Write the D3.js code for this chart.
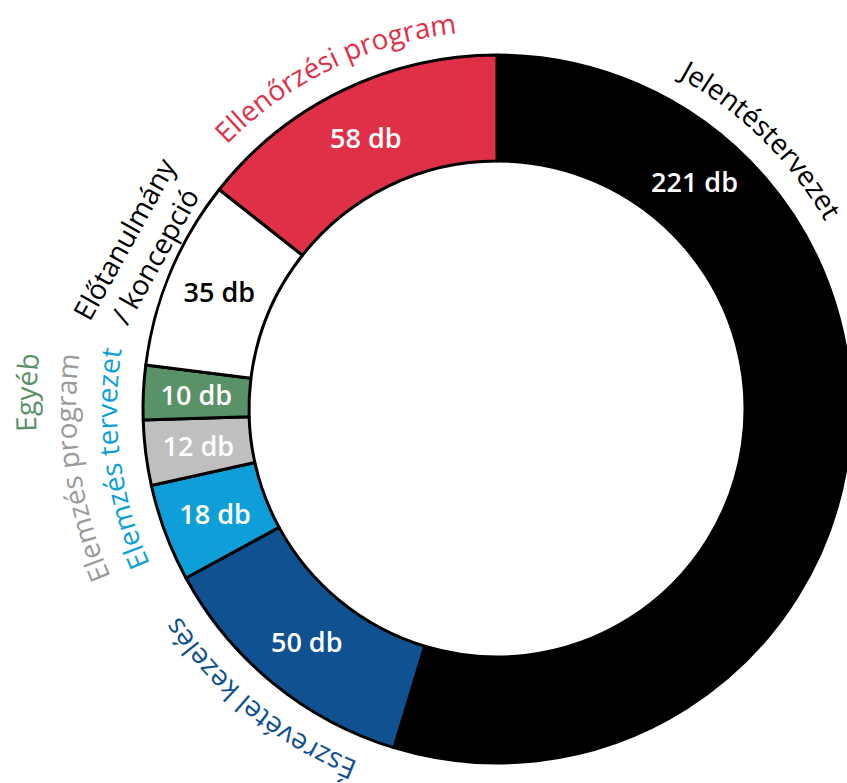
<!DOCTYPE html>
<html>
<head>
<meta charset="utf-8">
<script src="https://cdn.jsdelivr.net/npm/d3@7"></script>
<style>
  body { margin: 0; background: #fff; }
  svg { display: block; }
  text { font-family: "Open Sans", sans-serif; }
</style>
</head>
<body>
<svg id="chart"></svg>
<script>
// data, clockwise from 12 o'clock
var categories = ["Jelentéstervezet", "Észrevétel kezelés", "Elemzés tervezet", "Elemzés program", "Egyéb", "Előtanulmány\n/ koncepció", "Ellenőrzési program"];
var values = [221, 50, 18, 12, 10, 35, 58];
var unit = "db";

var colors = ["#000000", "#0f5191", "#0e9fd8", "#bfbfbf", "#5a9267", "#ffffff", "#e03048"];
var labelColors = ["#000000", "#0f5191", "#0e9fd8", "#9a9a9a", "#5a9267", "#000000", "#e03048"];
var valueColors = ["#ffffff", "#ffffff", "#ffffff", "#ffffff", "#ffffff", "#000000", "#ffffff"];

var width = 847, height = 783,
    cx = 497, cy = 409,
    outerR = 354, innerR = 248;

var svg = d3.select("svg#chart")
    .attr("width", width)
    .attr("height", height);

var g = svg.append("g").attr("transform", "translate(" + cx + "," + cy + ")");

var pie = d3.pie().sort(null).value(function(d) { return d; });
var arcs = pie(values);
var arc = d3.arc().innerRadius(innerR).outerRadius(outerR);

var deg = Math.PI / 180;
function midAngle(d) { return (d.startAngle + d.endAngle) / 2; }

// label placement (degrees clockwise from top); null = middle of the slice
var valueAngle = [41, null, null, null, null, null, null];
var outerLabel = [
  { angle: 44.5, r: 378 },
  { angle: null, r: 379 },
  { angle: 262.5, r: 380 },
  { angle: 262, r: 421 },
  { angle: 272, r: 461 },
  { angle: 294.3, r: 392, rotate: -61, straight: true },
  { angle: null, r: 378 }
];

g.selectAll("path.slice")
  .data(arcs)
  .enter().append("path")
    .attr("class", "slice")
    .attr("d", arc)
    .attr("fill", function(d, i) { return colors[i]; })
    .attr("stroke", "#000")
    .attr("stroke-width", 3)
    .attr("stroke-linejoin", "round");

// value labels inside the ring
var midR = (innerR + outerR) / 2;
g.selectAll("text.value")
  .data(arcs)
  .enter().append("text")
    .attr("class", "value")
    .attr("transform", function(d, i) {
      var a = valueAngle[i] != null ? valueAngle[i] * deg : midAngle(d);
      return "translate(" + (midR * Math.sin(a)) + "," + (-midR * Math.cos(a)) + ")";
    })
    .attr("text-anchor", "middle")
    .attr("dy", "0.36em")
    .attr("fill", function(d, i) { return valueColors[i]; })
    .style("font-size", "27px")
    .style("font-weight", 600)
    .text(function(d) { return d.data + " " + unit; });

// outer labels, curved along the ring
var defs = svg.append("defs");
function circlePath(r, a) {
  var a0 = a - Math.PI / 2, a1 = a + Math.PI / 2;
  return "M" + (r * Math.sin(a0)) + "," + (-r * Math.cos(a0)) +
         "A" + r + "," + r + " 0 0 1 " + (r * Math.sin(a1)) + "," + (-r * Math.cos(a1));
}

arcs.forEach(function(d, i) {
  var L = outerLabel[i];
  var a = L.angle != null ? L.angle * deg : midAngle(d);
  if (L.straight) {
    var lines = categories[i].split("\n");
    var t = g.append("g")
      .attr("transform", "translate(" + (L.r * Math.sin(a)) + "," + (-L.r * Math.cos(a)) + ") rotate(" + L.rotate + ")");
    t.selectAll("text").data(lines).enter().append("text")
      .attr("text-anchor", "middle")
      .attr("y", function(s, k) { return (k - (lines.length - 1) / 2) * 35; })
      .attr("dy", "0.36em")
      .attr("fill", labelColors[i])
      .style("font-size", "28px")
      .style("font-weight", 500)
      .text(function(s) { return s; });
    return;
  }
  defs.append("path")
    .attr("id", "lp" + i)
    .attr("d", circlePath(L.r, a));
  g.append("text")
    .attr("fill", labelColors[i])
    .style("font-size", "28px")
    .style("font-weight", 500)
    .append("textPath")
      .attr("href", "#lp" + i)
      .attr("startOffset", "50%")
      .attr("text-anchor", "middle")
      .text(categories[i]);
});
</script>
</body>
</html>
